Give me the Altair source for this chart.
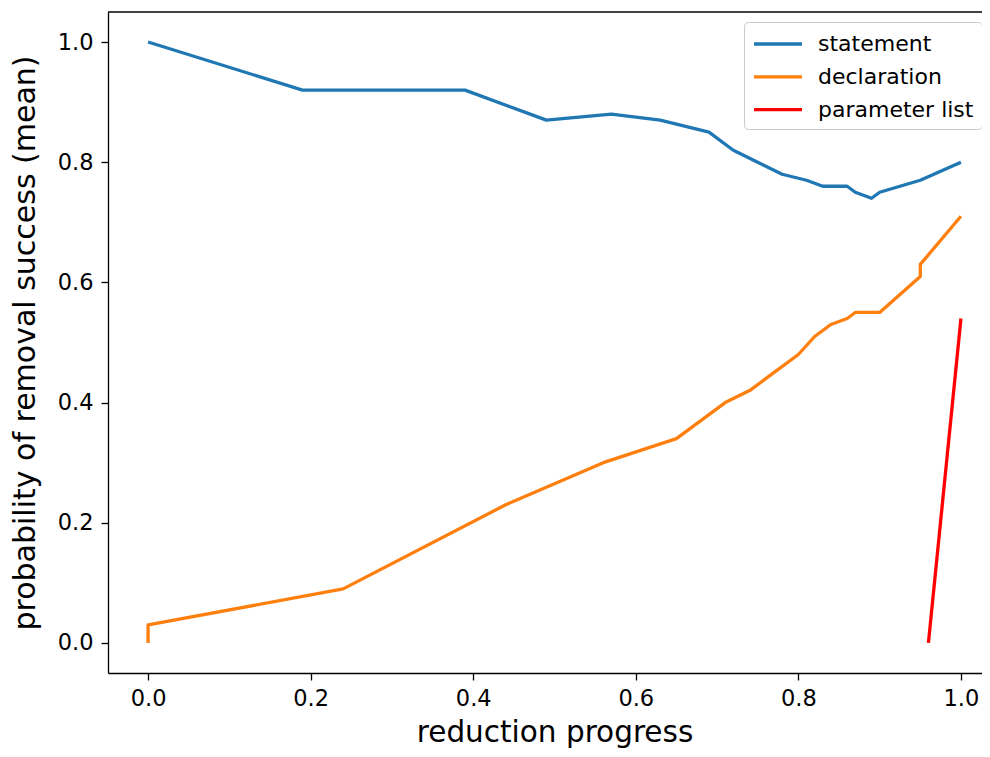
import altair as alt
import pandas as pd

# statement series
stmt_x = [0.0, 0.19, 0.39, 0.49, 0.57, 0.63, 0.69, 0.72, 0.78, 0.81, 0.83, 0.86, 0.87, 0.89, 0.90, 0.95, 1.0]
stmt_y = [1.0, 0.92, 0.92, 0.87, 0.88, 0.87, 0.85, 0.82, 0.78, 0.77, 0.76, 0.76, 0.75, 0.74, 0.75, 0.77, 0.80]

# declaration series
decl_x = [0.0, 0.0, 0.24, 0.44, 0.56, 0.65, 0.71, 0.74, 0.80, 0.82, 0.84, 0.86, 0.87, 0.90, 0.95, 0.95, 1.0]
decl_y = [0.0, 0.03, 0.09, 0.23, 0.30, 0.34, 0.40, 0.42, 0.48, 0.51, 0.53, 0.54, 0.55, 0.55, 0.61, 0.63, 0.71]

# parameter list series
param_x = [0.96, 1.0]
param_y = [0.0, 0.54]

series_names = ["statement", "declaration", "parameter list"]
series_colors = ["#1f77b4", "#ff7f0e", "#ff0000"]
x_ticks = [0.0, 0.2, 0.4, 0.6, 0.8, 1.0]
y_ticks = [0.0, 0.2, 0.4, 0.6, 0.8, 1.0]

rows = []
for name, xs, ys in zip(series_names, [stmt_x, decl_x, param_x], [stmt_y, decl_y, param_y]):
    for i, (xv, yv) in enumerate(zip(xs, ys)):
        rows.append({"series": name, "x": xv, "y": yv, "idx": i})
df = pd.DataFrame(rows)

FONT = "DejaVu Sans"
W = 874
H = 661
x_scale = alt.Scale(domain=[-0.0493, 1.0259], nice=False, zero=False)
y_scale = alt.Scale(domain=[-0.05, 1.05], nice=False, zero=False)

lines = (
    alt.Chart(df)
    .mark_line(strokeWidth=3.3, strokeCap="butt", strokeJoin="round")
    .encode(
        x=alt.X(
            "x:Q",
            scale=x_scale,
            axis=alt.Axis(
                values=x_ticks,
                format=".1f",
                title="reduction progress",
                titleX=446.5,
                titleY=68,
                titleAlign="center",
                titleBaseline="alphabetic",
                titleFontSize=29.5,
            ),
        ),
        y=alt.Y(
            "y:Q",
            scale=y_scale,
            axis=alt.Axis(
                values=y_ticks,
                format=".1f",
                title="probability of removal success (mean)",
                titleX=-74,
                titleY=H / 2,
                titleAlign="center",
                titleBaseline="alphabetic",
                titleAngle=270,
            ),
        ),
        color=alt.Color(
            "series:N",
            scale=alt.Scale(domain=series_names, range=series_colors),
            legend=alt.Legend(
                title=None,
                orient="none",
                legendX=636,
                legendY=10,
                symbolType="M-1,0H3",
                symbolSize=576,
                symbolStrokeWidth=3.3,
                labelFontSize=22,
                labelFont=FONT,
                labelColor="black",
                labelOffset=38,
                rowPadding=7.8,
                padding=8,
                fillColor="white",
                strokeColor="#cccccc",
                cornerRadius=4,
            ),
        ),
        order="idx:Q",
    )
)

# top spine of the frame (the right spine lies outside the cropped reference picture)
top_spine = (
    alt.Chart(alt.Data(values=[{}]))
    .mark_rule(color="black", strokeWidth=1.3)
    .encode(x=alt.value(0), x2=alt.value(W), y=alt.value(0))
)

chart = (
    alt.layer(lines, top_spine)
    .properties(
        width=W,
        height=H,
        autosize=alt.AutoSizeParams(type="none"),
        padding={"left": 100, "top": 4, "right": 0, "bottom": 76},
    )
    .configure_view(stroke=None)
    .configure_axis(
        grid=False,
        domainColor="black",
        domainWidth=1.3,
        tickColor="black",
        tickWidth=1.3,
        tickSize=7,
        labelFont=FONT,
        labelFontSize=22.5,
        labelColor="black",
        titleFont=FONT,
        titleFontSize=30,
        titleFontWeight="normal",
        titleColor="black",
    )
    .configure_axisX(labelPadding=7)
    .configure_axisY(labelPadding=8)
)

chart.save("out.html", embed_options={"renderer": "svg", "actions": False})
